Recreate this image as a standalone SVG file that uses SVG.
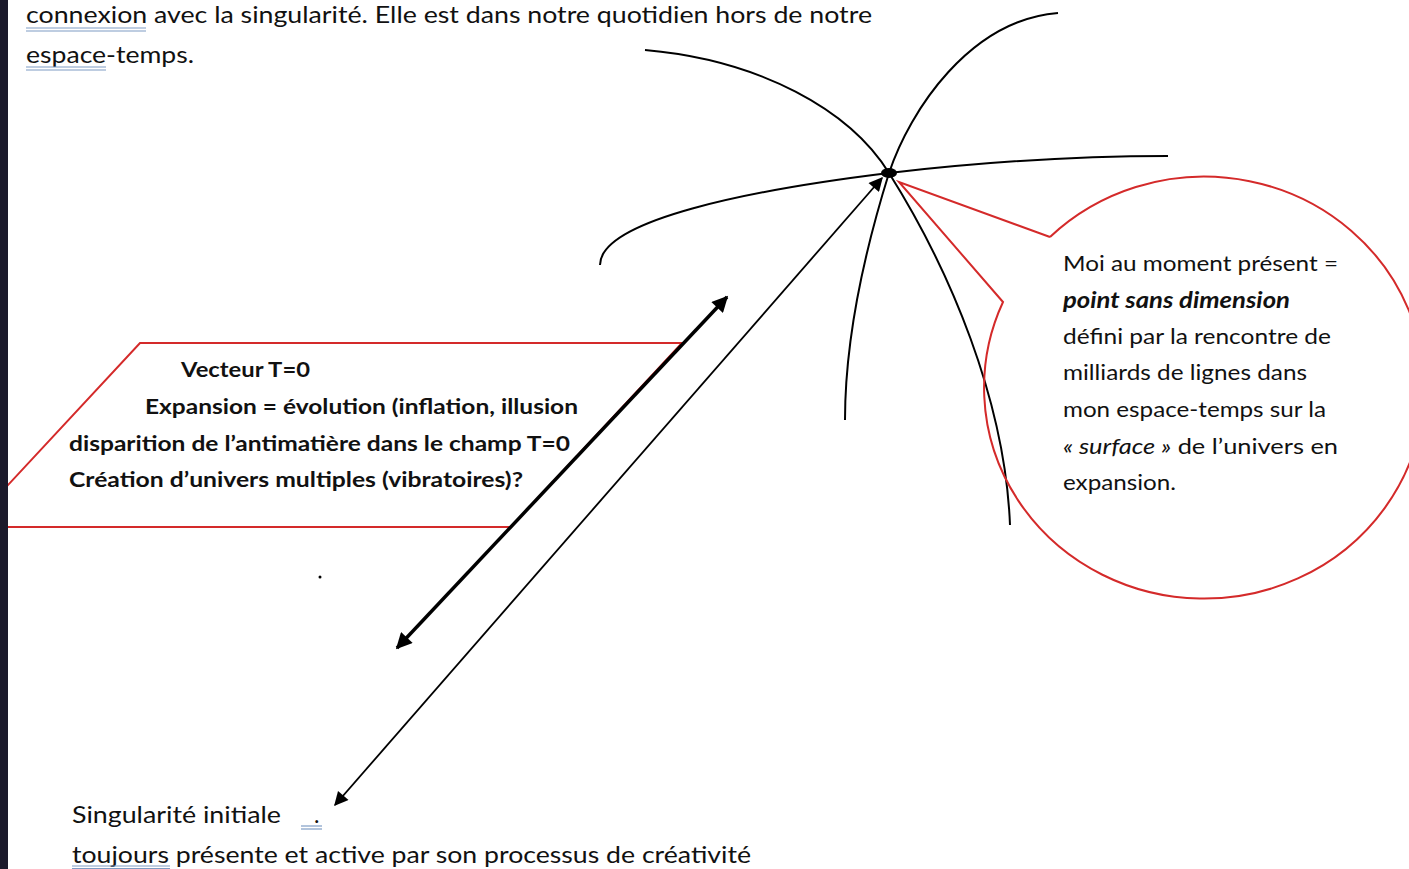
<svg xmlns="http://www.w3.org/2000/svg" width="1409" height="869" viewBox="0 0 1409 869">
<defs>
<style>
.t{font-family:Lato,"Noto Sans","Liberation Sans",sans-serif;fill:#111}
.n{font-size:23px}
.b{font-size:21px;font-weight:bold}
.c{font-size:22px}
.red{fill:none;stroke:#d42a2a;stroke-width:2}
.blk{fill:none;stroke:#000;stroke-width:2}
.ul{stroke:#7f9cc4;stroke-width:1.2}
</style>
<marker id="ah" viewBox="0 0 10 10" refX="9" refY="5" markerWidth="21" markerHeight="16" markerUnits="userSpaceOnUse" orient="auto-start-reverse"><path d="M0,0 L10,5 L0,10 Z" fill="#000"/></marker>
<marker id="ah2" viewBox="0 0 10 10" refX="9" refY="5" markerWidth="19" markerHeight="14" markerUnits="userSpaceOnUse" orient="auto-start-reverse"><path d="M0,0 L10,5 L0,10 Z" fill="#000"/></marker>
</defs>
<rect x="0" y="0" width="1409" height="869" fill="#fff"/>

<g id="top-text">
<text class="t n" x="26" y="23" textLength="846" lengthAdjust="spacingAndGlyphs">connexion avec la singularité. Elle est dans notre quotidien hors de notre</text>
<line class="ul" x1="26" y1="28" x2="146" y2="28"/><line class="ul" x1="26" y1="31" x2="146" y2="31"/>
<text class="t n" x="26" y="63" textLength="168" lengthAdjust="spacingAndGlyphs">espace-temps.</text>
<line class="ul" x1="26" y1="67" x2="106" y2="67"/><line class="ul" x1="26" y1="70" x2="106" y2="70"/>
</g>

<g id="vector-box">
<polygon class="red" points="140,343 682,343 511,527 -31,527"/>
<text class="t b" x="181" y="377" textLength="129" lengthAdjust="spacingAndGlyphs">Vecteur T=0</text>
<text class="t b" x="145" y="414" textLength="433" lengthAdjust="spacingAndGlyphs">Expansion = évolution (inflation, illusion</text>
<text class="t b" x="69" y="451" textLength="501" lengthAdjust="spacingAndGlyphs">disparition de l’antimatière dans le champ T=0</text>
<text class="t b" x="69" y="487" textLength="454" lengthAdjust="spacingAndGlyphs">Création d’univers multiples (vibratoires)?</text>
</g>

<g id="lines">
<path class="blk" d="M645 50 C760 60 850 110 889 173 C950 270 1005 400 1010 525"/>
<path class="blk" d="M1058 13 C970 20 910 110 889 173 C865 250 845 340 845 420"/>
<path class="blk" d="M600 265 C600 220 750 190 889 173 C1000 160 1100 156 1168 156"/>
</g>

<g id="connectors">
<line x1="397" y1="648" x2="727" y2="297" stroke="#000" stroke-width="3.5" marker-start="url(#ah)" marker-end="url(#ah)"/>
<line x1="335" y1="805" x2="882" y2="178" stroke="#000" stroke-width="1.8" marker-start="url(#ah2)" marker-end="url(#ah2)"/>
</g>

<g id="point">
<ellipse cx="889" cy="173" rx="8" ry="5" fill="#000"/>
</g>

<g id="callout">
<path class="red" d="M1050 237 L899 182 L1003 302 A220 211 0 1 0 1050 237"/>
<text class="t c" x="1063" y="271" textLength="275" lengthAdjust="spacingAndGlyphs">Moi au moment présent =</text>
<text class="t c" x="1063" y="308" font-weight="bold" font-style="italic" textLength="227" lengthAdjust="spacingAndGlyphs">point sans dimension</text>
<text class="t c" x="1063" y="344" textLength="268" lengthAdjust="spacingAndGlyphs">défini par la rencontre de</text>
<text class="t c" x="1063" y="380" textLength="244" lengthAdjust="spacingAndGlyphs">milliards de lignes dans</text>
<text class="t c" x="1063" y="417" textLength="263" lengthAdjust="spacingAndGlyphs">mon espace-temps sur la</text>
<text class="t c" x="1063" y="454" textLength="275" lengthAdjust="spacingAndGlyphs"><tspan font-style="italic">« surface »</tspan> de l’univers en</text>
<text class="t c" x="1063" y="490" textLength="113" lengthAdjust="spacingAndGlyphs">expansion.</text>
</g>

<g id="singularity">
<circle cx="320" cy="577" r="1.5" fill="#000"/>
<text class="t n" x="72" y="823" textLength="209" lengthAdjust="spacingAndGlyphs">Singularité initiale</text>
<text class="t n" x="314" y="823">.</text>
<line class="ul" x1="301" y1="826" x2="322" y2="826"/><line class="ul" x1="301" y1="829" x2="322" y2="829"/>
<text class="t n" x="72" y="863" textLength="679" lengthAdjust="spacingAndGlyphs">toujours présente et active par son processus de créativité</text>
<line class="ul" x1="72" y1="866" x2="170" y2="866"/><line class="ul" x1="72" y1="868.5" x2="170" y2="868.5"/>
</g>

<rect x="0" y="0" width="8" height="869" fill="#1b1a2b"/>
</svg>
